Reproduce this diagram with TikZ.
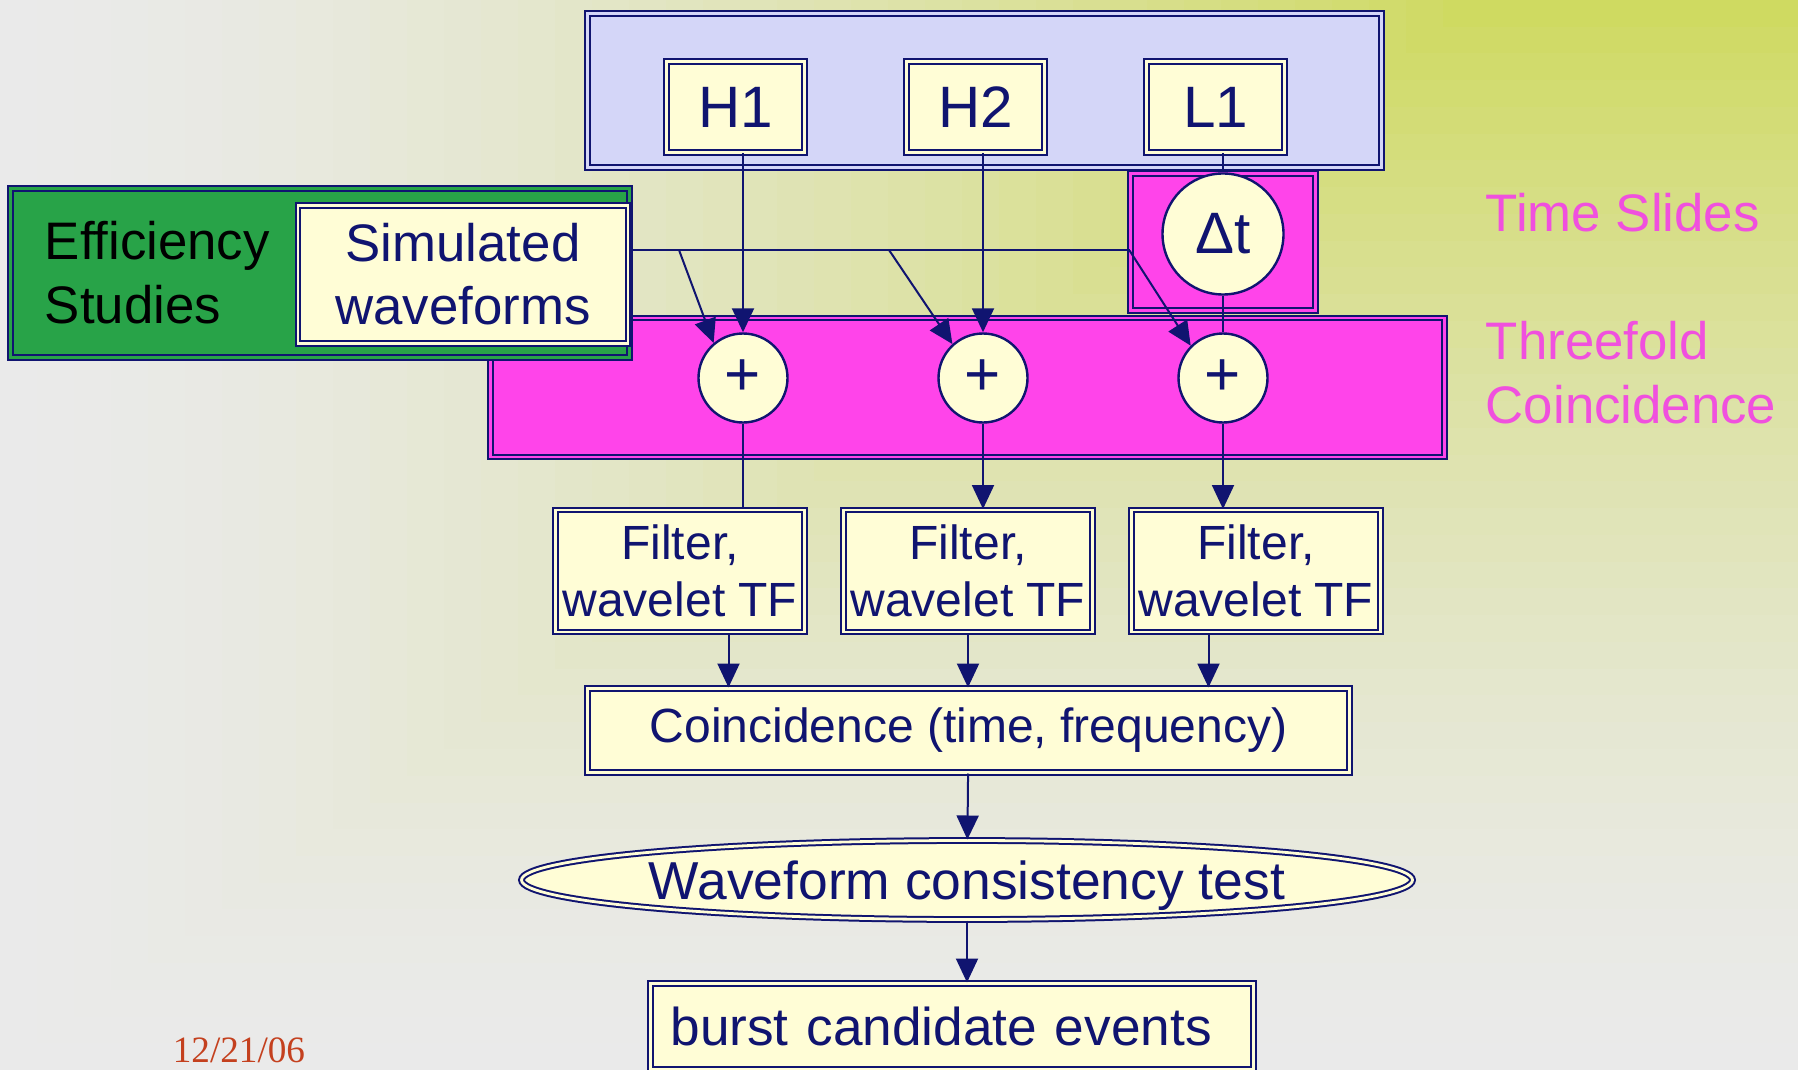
\documentclass[tikz,border=0pt]{standalone}
\usepackage{fontspec}
\setmainfont{Liberation Sans}
\newfontfamily\datefont{Liberation Serif}
\usetikzlibrary{shapes.geometric,arrows.meta,positioning}

\definecolor{navy}{RGB}{16,20,112}
\definecolor{cream}{RGB}{255,253,214}
\definecolor{lavender}{RGB}{212,214,248}
\definecolor{slidemagenta}{RGB}{255,68,234}
\definecolor{notemagenta}{RGB}{240,80,222}
\definecolor{effgreen}{RGB}{40,163,72}
\definecolor{bgyellow}{RGB}{206,217,92}
\definecolor{bggrey}{RGB}{234,234,234}
\definecolor{datered}{RGB}{196,64,30}

\begin{document}
\begin{tikzpicture}[
    x=0.25pt, y=-0.25pt, >={Triangle[length=6pt,width=5.5pt]},
    panel/.style={draw=navy, line width=0.5pt, double distance=0.7pt, inner sep=0pt},
    box/.style={panel, fill=cream, double=cream, text=navy, align=center},
    detbox/.style={box, minimum width=34.5pt, minimum height=22.75pt, font=\fontsize{14.6}{17.5}\selectfont},
    filtbox/.style={box, minimum width=62.25pt, minimum height=30.5pt, font=\fontsize{12}{14.2}\selectfont},
    sum/.style={circle, draw=navy, line width=0.6pt, fill=cream, text=navy, inner sep=0pt, minimum size=22.25pt, font=\fontsize{15.5}{17.5}\selectfont},
    wire/.style={draw=navy, line width=0.5pt},
    sidenote/.style={anchor=west, align=left, inner sep=0pt, text=notemagenta, font=\fontsize{13.2}{16}\selectfont}
  ]
  \useasboundingbox (0,0) rectangle (1798,1070);

  % background
  \fill[bggrey] (0,0) rectangle (1798,1070);
  \foreach \i in {39,...,1} {
    \pgfmathsetmacro\lev{\i/40}
    \pgfmathsetmacro\mix{100*(1-\lev)^1.5}
    \pgfmathsetmacro\xl{1480*(1-\lev)}
    \pgfmathsetmacro\yb{1070*\lev}
    \fill[bgyellow!\mix!bggrey] (\xl,0) rectangle (1798,\yb);
  }

  % panels
  \node[panel, fill=slidemagenta, double=slidemagenta, minimum width=46.25pt, minimum height=34.25pt] (slides) at (1223,242) {};
  \node[panel, fill=slidemagenta, double=slidemagenta, minimum width=238.5pt, minimum height=34.75pt] (threefold) at (967.5,387.5) {};
  \node[panel, fill=lavender, double=lavender, minimum width=198.5pt, minimum height=38.5pt] (ifos) at (984.5,90.5) {};
  \node[panel, fill=effgreen, double=effgreen, minimum width=154.75pt, minimum height=42.25pt] (eff) at (320,273) {};
  \node[anchor=west, align=left, inner sep=0pt, font=\fontsize{13.2}{16}\selectfont] (efftext) at (44,273) {Efficiency\\Studies};
  \node[box, minimum width=82.5pt, minimum height=34.5pt, font=\fontsize{13.2}{15.8}\selectfont] (sim) at (463,274.5) {Simulated\\waveforms};

  % detectors
  \node[detbox] (h1) at (735.5,107) {H1};
  \node[detbox, right of=h1, node distance=60pt] (h2) {H2};
  \node[detbox, right of=h2, node distance=60pt] (l1) {L1};
  \node[sum, minimum size=30.25pt, font=\fontsize{14.6}{17.5}\selectfont] (dt) at (1223,234) {Δt};

  % sums
  \node[sum] (p1) at (743,378) {+};
  \node[sum, right of=p1, node distance=60pt] (p2) {+};
  \node[sum, right of=p2, node distance=60pt] (p3) {+};

  % filters
  \node[filtbox] (f1) at (680,571) {Filter,\\wavelet TF};
  \node[filtbox, right of=f1, node distance=72pt] (f2) {Filter,\\wavelet TF};
  \node[filtbox, right of=f2, node distance=72pt] (f3) {Filter,\\wavelet TF};

  \node[box, minimum width=190.5pt, minimum height=21pt, font=\fontsize{12}{14.2}\selectfont] (coinc) at (968.5,730.5) {Coincidence (time, frequency)};
  \node[box, ellipse, minimum width=222.75pt, minimum height=19.75pt, inner xsep=-1pt, text height=9.6pt, text depth=0pt, font=\fontsize{13.35}{16}\selectfont] (wct) at (967,880) {Waveform consistency test};
  \node[box, minimum height=21.5pt, text width=140.75pt, inner xsep=5pt, align=left, font=\fontsize{13.3}{16}\selectfont] (burst) at (952,1026.5) {burst candidate events};

  \node[anchor=west, inner sep=0pt, text=datered, font=\datefont\fontsize{9.3}{11}\selectfont] (date) at (172,1050) {12/21/06};
  \node[sidenote] (slidenote) at (1485,213) {Time Slides};
  \node[sidenote] (foldnote) at (1485,373) {Threefold\\Coincidence};

  % connectors
  \coordinate (simjoin) at ([yshift=6pt]sim.east);
  \coordinate (b1) at (679,250);
  \coordinate (b2) at (889,250);
  \draw[wire] (simjoin) -- (simjoin -| slides.west);
  \draw[wire, ->] (b1) -- (p1.130);
  \draw[wire, ->] (b2) -- (p2.132);
  \draw[wire, ->] (simjoin -| slides.west) -- (p3.135);

  \draw[wire, ->] (h1.south -| p1) -- (p1);
  \draw[wire, ->] (h2.south -| p2) -- (p2);
  \draw[wire] (l1.south -| dt) -- (dt);
  \draw[wire] (dt) -- (p3);

  \draw[wire] (p1) -- (p1 |- f1.north);
  \draw[wire, ->] (p2) -- (p2 |- f2.north);
  \draw[wire, ->] (p3) -- (p3 |- f3.north);

  \coordinate (c1) at ([xshift=-60pt]coinc.north);
  \coordinate (c3) at ([xshift=60pt]coinc.north);
  \draw[wire, ->] (c1 |- f1.south) -- (c1);
  \draw[wire, ->] (f2) -- (f2 |- coinc.north);
  \draw[wire, ->] (c3 |- f3.south) -- (c3);
  \draw[wire, ->] (coinc) -- (wct);
  \draw[wire, ->] (wct) -- (wct |- burst.north);
\end{tikzpicture}
\end{document}
